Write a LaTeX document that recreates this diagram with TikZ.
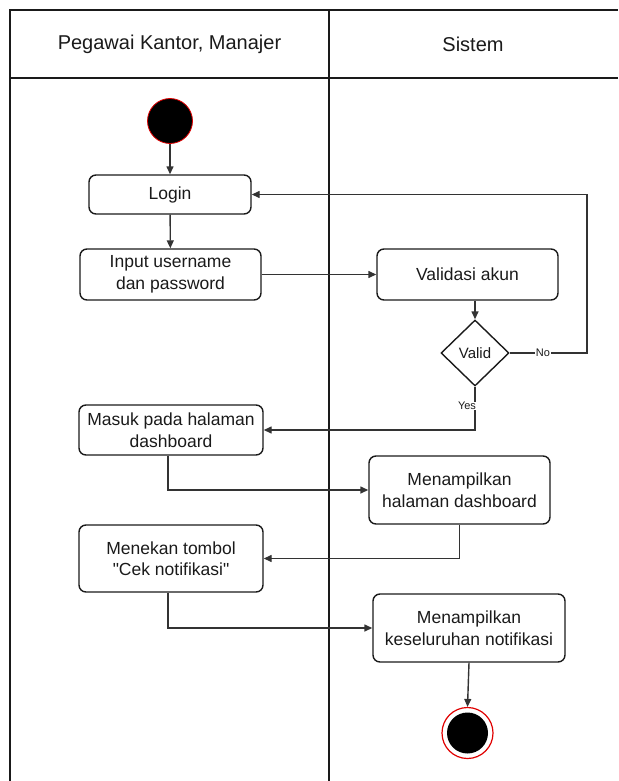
\documentclass[tikz,border=0pt]{standalone}
\usepackage{fontspec}
% plain family: no TeX ligature mapping, so " stays a straight quote
\newfontfamily\diagfont{Liberation Sans}
\usetikzlibrary{shapes.geometric,arrows.meta}
\definecolor{linegray}{HTML}{333333}
\definecolor{ink}{HTML}{1A1A1A}
\definecolor{startred}{HTML}{E00000}
\tikzset{
  act/.style={draw=ink, line width=1.4pt, rounded corners=7pt, align=center,
    font=\diagfont\fontsize{17.5}{21.5}\selectfont, text=ink, inner sep=0pt},
  flow/.style={draw=linegray, line width=1.4pt, -{Triangle[length=8pt,width=7pt]}},
  lane/.style={draw=ink, line width=1.5pt},
  lanehead/.style={font=\diagfont\fontsize{20}{24}\selectfont, text=ink},
  guard/.style={font=\diagfont\fontsize{11}{13}\selectfont, text=ink, fill=white, inner sep=0.5pt},
}
\begin{document}
\begin{tikzpicture}[x=1pt,y=-1pt]
\useasboundingbox (0,0) rectangle (618,781);
% swimlanes
\draw[lane] (10,781) -- (10,10) -- (618,10);
\draw[lane] (10,78) -- (618,78);
\draw[lane] (329,10) -- (329,781);
\node[lanehead] (h1) at (169.5,44) {Pegawai Kantor, Manajer};
\node[lanehead] (h2) at (473,44) {Sistem};
% start
\node[circle, fill=black, draw=startred, line width=0.8pt, minimum size=45pt, inner sep=0pt] (start) at (170,121) {};
% activities
\node[act, minimum width=162pt, minimum height=39pt] (login) at (170,194.5) {Login};
\node[act, minimum width=181pt, minimum height=51pt] (input) at (170.5,274.5) {Input username\\dan password};
\node[act, minimum width=181pt, minimum height=51pt] (valid) at (467.5,274.5) {Validasi akun};
\node[diamond, draw=ink, line width=1.4pt, minimum width=68pt, minimum height=66pt, inner sep=0pt,
  font=\diagfont\fontsize{15}{18}\selectfont, text=ink] (dec) at (475,353) {Valid};
\node[act, minimum width=184pt, minimum height=50pt] (masuk) at (171,430) {Masuk pada halaman\\dashboard};
\node[act, minimum width=181pt, minimum height=68pt] (tampil) at (459.5,490) {Menampilkan\\halaman dashboard};
\node[act, minimum width=184pt, minimum height=67pt] (tekan) at (171,558.5) {Menekan tombol\\"Cek notifikasi"};
\node[act, minimum width=192pt, minimum height=68pt] (notif) at (469,628) {Menampilkan\\keseluruhan notifikasi};
% end
\node[circle, draw=startred, line width=1.2pt, minimum size=51pt, inner sep=0pt] (end) at (467.5,733) {};
\node[circle, fill=black, minimum size=41pt, inner sep=0pt] (endc) at (end.center) {};
% flows
\draw[flow] (start) -- (login);
\draw[flow] (login) -- (input);
\draw[flow] (input) -- (valid);
\draw[flow] (valid.south -| dec.north) -- (dec.north);
\coordinate (noturn) at (587,353);
\draw[flow] (dec.east) -- (noturn) |- (login.east);
\node[guard] (nolab) at (543,353) {No};
\draw[flow] (dec.south) |- (masuk.east);
\node[guard] (yeslab) at (467,406) {Yes};
\draw[flow] ([xshift=-3pt]masuk.south) |- (tampil.west);
\draw[flow] (tampil.south) |- (tekan.east);
\draw[flow] ([xshift=-3pt]tekan.south) |- (notif.west);
\draw[flow] (notif.south) -- (end.north);
\end{tikzpicture}
\end{document}
